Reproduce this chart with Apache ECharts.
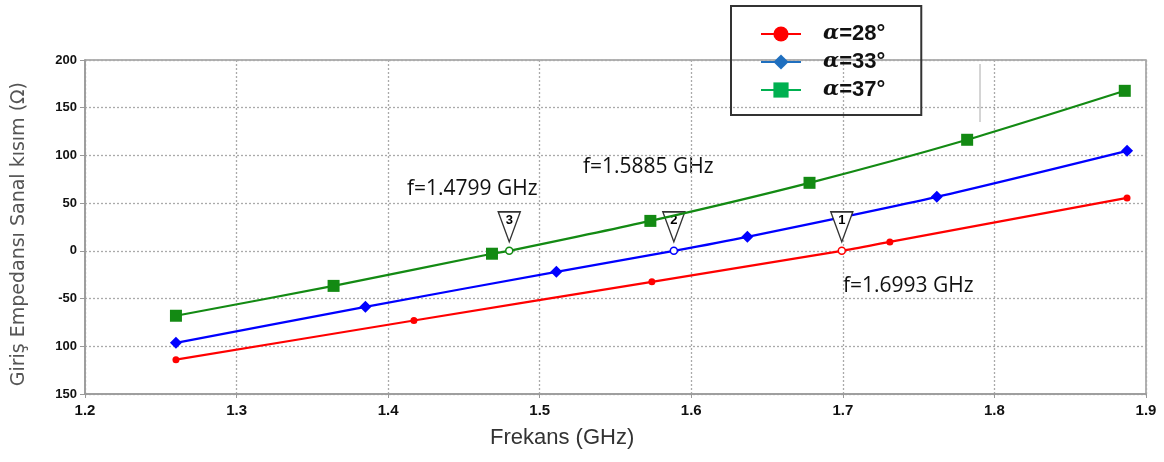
<!DOCTYPE html>
<html>
<head>
<meta charset="utf-8">
<script src="https://cdn.jsdelivr.net/npm/echarts@6/dist/echarts.min.js"></script>
<style>html,body{margin:0;padding:0;background:#fff}#c{width:1164px;height:462px}</style>
</head>
<body>
<div id="c"></div>
<script>
// ---- data ----
const seriesNames = ['α=28°', 'α=33°', 'α=37°'];
const red28 = [[1.26, -114], [1.417, -73], [1.574, -32.5], [1.731, 9.4], [1.8875, 55.5]];
const blue33 = [[1.26, -96.4], [1.385, -58.7], [1.511, -22], [1.637, 14.7], [1.762, 56.6], [1.8875, 104.8]];
const green37 = [[1.26, -68], [1.364, -36.7], [1.4685, -3], [1.573, 31.4], [1.678, 71.3], [1.782, 116.4], [1.886, 167.7]];
const crossFreq = [1.6993, 1.5885, 1.4799];   // zero crossings for 28°, 33°, 37°
const crossMarkLabels = ['1', '2', '3'];
const crossTexts = ['f=1.6993 GHz', 'f=1.5885 GHz', 'f=1.4799 GHz'];
const yTickValues = [200, 150, 100, 50, 0, -50, -100, -150];
const yTickLabels = ['200', '150', '100', '50', '0', '-50', '100', '150'];

const lineColors = ['#ff0000', '#0000ff', '#138a13'];
const legendColors = ['#ff0000', '#1f6fbf', '#00b050'];
const symbols = ['circle', 'diamond', 'rect'];
const symbolSizes = [7, 12, 12];
const raw = [red28, blue33, green37];

function buildData(pts, cross, color) {
  const arr = pts.map(p => ({ value: p }));
  arr.push({ value: [cross, 0], symbol: 'circle', symbolSize: 7,
    itemStyle: { color: '#fff', borderColor: color, borderWidth: 1.5 } });
  arr.sort((a, b) => a.value[0] - b.value[0]);
  return arr;
}

const triPath = 'path://M0,0 L22,0 L11,30 Z';
const series = [];
raw.forEach((pts, i) => {
  series.push({
    type: 'line', name: 'd' + i, smooth: 0.25,
    data: buildData(pts, crossFreq[i], lineColors[i]),
    symbol: symbols[i], symbolSize: symbolSizes[i], showAllSymbol: true,
    itemStyle: { color: lineColors[i] },
    lineStyle: { color: lineColors[i], width: 2.2 },
    z: 3 + i,
    markPoint: {
      symbol: triPath, symbolSize: [22, 30], symbolOffset: [0, -24],
      itemStyle: { color: '#fff', borderColor: '#333', borderWidth: 1.5 },
      label: { show: true, formatter: crossMarkLabels[i], color: '#000', fontWeight: 'bold',
        fontSize: 13, fontFamily: 'Liberation Sans', offset: [0, -6] },
      data: [{ coord: [crossFreq[i], 0] }]
    }
  });
});
// legend-only series
seriesNames.forEach((n, i) => {
  series.push({
    type: 'line', name: n, data: [], symbol: symbols[i],
    itemStyle: { color: legendColors[i] }, lineStyle: { color: legendColors[i], width: 2 }
  });
});

const chart = echarts.init(document.getElementById('c'), null, { renderer: 'canvas' });
chart.setOption({
  animation: false,
  backgroundColor: '#fff',
  grid: { left: 85, right: 18, top: 60, bottom: 68, show: true, borderColor: '#999', borderWidth: 1.5 },
  legend: {
    data: seriesNames, orient: 'vertical', left: 731, top: 6,
    itemWidth: 40, itemHeight: 19, itemGap: 6,
    borderColor: '#333', borderWidth: 2, borderRadius: 0,
    padding: [17, 36, 14, 29],
    formatter: n => '{a|α}{b|' + n.slice(1) + '}',
    textStyle: {
      padding: [0, 0, 0, 17],
      lineHeight: 19,
      rich: {
        a: { fontFamily: 'DejaVu Serif', fontStyle: 'italic', fontWeight: 'bold', fontSize: 21, color: '#111', lineHeight: 19 },
        b: { fontFamily: 'Liberation Sans', fontWeight: 'bold', fontSize: 22, color: '#111', lineHeight: 19 }
      }
    }
  },
  xAxis: {
    type: 'value', min: 1.2, max: 1.9, interval: 0.1,
    axisLine: { show: true, onZero: false, lineStyle: { color: '#999', width: 1.5 } },
    axisTick: { show: true, length: 4, lineStyle: { color: '#999' } },
    axisLabel: { formatter: v => v.toFixed(1), color: '#111', fontWeight: 'bold', fontSize: 15,
      fontFamily: 'Liberation Sans Narrow, Liberation Sans', margin: 9 },
    splitLine: { show: true, lineStyle: { color: '#aaa', type: [2, 2], width: 1.3 } }
  },
  yAxis: {
    type: 'value', min: -150, max: 200, interval: 50,
    axisLine: { show: true, lineStyle: { color: '#999', width: 1.5 } },
    axisTick: { show: true, length: 5, lineStyle: { color: '#999' } },
    axisLabel: { formatter: v => yTickLabels[yTickValues.indexOf(v)], color: '#111', fontWeight: 'bold',
      fontSize: 13, fontFamily: 'Liberation Sans', margin: 8 },
    splitLine: { show: true, lineStyle: { color: '#aaa', type: [2, 2], width: 1.3 } }
  },
  graphic: [
    { type: 'text', left: 10, top: 82, style: { text: 'Giriş Empedansı Sanal kısım (Ω)', fill: '#555',
        font: '19px "DejaVu Sans"' } , rotation: Math.PI / 2, originX: 0, originY: 0 },
    { type: 'text', left: 490, top: 427, style: { text: 'Frekans (GHz)', fill: '#333',
        font: '22px "Liberation Sans"' } },
    { type: 'text', left: 843, top: 276, style: { text: crossTexts[0], fill: '#111', font: '21px "Open Sans"' } },
    { type: 'text', left: 583, top: 157, style: { text: crossTexts[1], fill: '#111', font: '21px "Open Sans"' } },
    { type: 'text', left: 407, top: 179, style: { text: crossTexts[2], fill: '#111', font: '21px "Open Sans"' } },
    { type: 'line', shape: { x1: 980, y1: 64, x2: 980, y2: 122 }, style: { stroke: '#aaa', lineWidth: 1 } }
  ],
  series: series
});
</script>
</body>
</html>
